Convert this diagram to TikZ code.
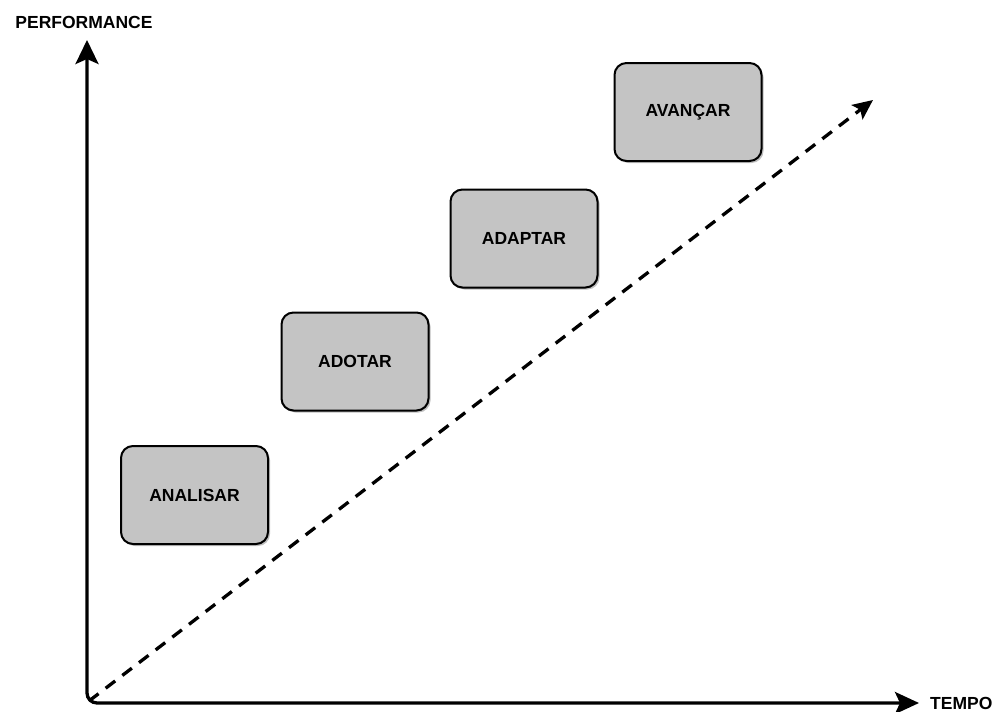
\documentclass[tikz,border=0pt]{standalone}
\usepackage{fontspec}
\setmainfont{Liberation Sans}
\usetikzlibrary{arrows.meta,shadows}
\begin{document}
\begin{tikzpicture}[x=1pt,y=-1pt,
  axisline/.style={line width=3.3pt,
    {Stealth[length=24pt,width=23pt,inset=5pt]}-{Stealth[length=24pt,width=22pt,inset=5pt]},
    rounded corners=10pt},
  trend/.style={line width=3.3pt, dash pattern=on 12pt off 9pt,
    -{Stealth[length=20pt,width=18pt,inset=4pt]}},
  stage/.style={draw=black, line width=2pt, fill=stagegray, rounded corners=12pt,
    minimum width=147pt, minimum height=98pt,
    font=\fontsize{17.5}{20}\selectfont\bfseries,
    drop shadow={shadow xshift=2pt, shadow yshift=-2pt, opacity=0.25, fill=black}},
  axislabel/.style={font=\fontsize{17.5}{20}\selectfont\bfseries, inner sep=0pt}]
\definecolor{stagegray}{HTML}{C4C4C4}
\useasboundingbox (0,0) rectangle (994,712);

% axes
\coordinate (ytip) at (87,40);
\coordinate (xtip) at (919,703);
\coordinate (origin) at (87,703);
\draw[axisline] (ytip) |- (xtip);
\node[axislabel] (perf) at (84,22) {PERFORMANCE};
\node[axislabel, anchor=west] (tempo) at (930,703) {TEMPO};

% rising trend line
\coordinate (trendstart) at (89,701);
\coordinate (trendend) at (873,100);
\draw[trend] (trendstart) -- (trendend);

% stages
\node[stage] (analisar) at (194.5,495) {ANALISAR};
\node[stage] (adotar) at (355,361.5) {ADOTAR};
\node[stage] (adaptar) at (524,238.5) {ADAPTAR};
\node[stage] (avancar) at (688,112) {AVANÇAR};
\end{tikzpicture}
\end{document}
